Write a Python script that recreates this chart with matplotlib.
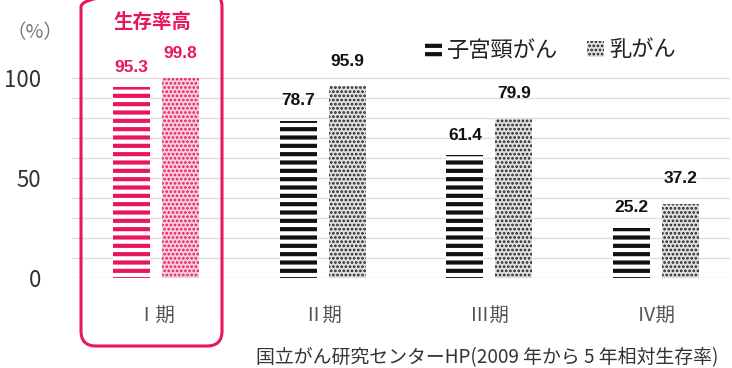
import matplotlib
matplotlib.use("Agg")
import matplotlib.pyplot as plt
import numpy as np
from matplotlib.patches import FancyBboxPatch, Patch
from matplotlib.transforms import IdentityTransform

plt.rcParams['font.family'] = ['Noto Sans CJK JP', 'DejaVu Sans']

# ---- data ----
stages = ["Ⅰ期", "Ⅱ期", "Ⅲ期", "Ⅳ期"]
cervical = [95.3, 78.7, 61.4, 25.2]
breast = [99.8, 95.9, 79.9, 37.2]
series_names = ["子宮頸がん", "乳がん"]
y_ticks = [0, 50, 100]
highlight_title = "生存率高"
unit_label = "（%）"
source_note = "国立がん研究センターHP(2009 年から 5 年相対生存率)"

PINK = "#E8175D"
PINK_LIGHT = "#F6D0DE"
BLACK = "#111111"
GRAY_FACE = "#E0E0E0"

W, H = 732, 368
fig = plt.figure(figsize=(W / 100, H / 100), dpi=100)

# axes placement (pixel based)
left_px, right_px = 72, 730
zero_px, top_px = 278, 18
ax = fig.add_axes([left_px / W, (H - zero_px) / H,
                   (right_px - left_px) / W, (zero_px - top_px) / H])

spacing = 166.7
x0_px = 156
ax.set_xlim((left_px - x0_px) / spacing, (right_px - x0_px) / spacing)
ax.set_ylim(0, 130)

x = np.arange(len(stages))
bw = 37 / spacing
off = 24.5 / spacing

def set_hlw(bars, lw):
    for b in bars:
        if hasattr(b, "set_hatch_linewidth"):
            b.set_hatch_linewidth(lw)

plt.rcParams['hatch.linewidth'] = 3.0
cb = ax.bar(x - off, cervical, width=bw, facecolor="white",
            edgecolor=BLACK, linewidth=0, hatch="--", zorder=3)
set_hlw(cb, 3.0)
plt.rcParams['hatch.linewidth'] = 1.3
bb = ax.bar(x + off, breast, width=bw, facecolor=GRAY_FACE,
            edgecolor="#222222", linewidth=0, hatch="....", zorder=3)
set_hlw(bb, 1.3)

# highlight stage I
cb[0].set_edgecolor(PINK)
bb[0].set_edgecolor(PINK)
bb[0].set_facecolor(PINK_LIGHT)

# value labels
for i in range(len(stages)):
    col = PINK if i == 0 else BLACK
    ax.text(x[i] - off, cervical[i] + 10, f"{cervical[i]:.1f}", ha="center",
            va="center", fontsize=12.5, fontweight="bold", color=col,
            family=["Liberation Sans", "DejaVu Sans"], zorder=4)
    ax.text(x[i] + off, breast[i] + 12.5, f"{breast[i]:.1f}", ha="center",
            va="center", fontsize=12.5, fontweight="bold", color=col,
            family=["Liberation Sans", "DejaVu Sans"], zorder=4)

# axes styling
for s in ax.spines.values():
    s.set_visible(False)
ax.set_yticks(y_ticks)
ax.set_yticks(np.arange(0, 101, 10), minor=True)
ax.yaxis.grid(True, which="both", color="#DDDDDD", linewidth=1.0, zorder=0)
ax.tick_params(axis="y", which="both", length=0, pad=22,
               labelsize=16, labelcolor="#333333")
ax.set_xticks(x)
ax.set_xticklabels(stages)
ax.tick_params(axis="x", length=0, pad=19, labelsize=14, labelcolor="#555555")
ax.set_axisbelow(True)

# legend
h1 = Patch(facecolor="white", edgecolor=BLACK, linewidth=0, hatch="--")
h2 = Patch(facecolor=GRAY_FACE, edgecolor="#222222", linewidth=0, hatch="....")
leg = fig.legend([h1, h2], series_names, loc="center left",
                 bbox_to_anchor=(414 / W, (H - 50) / H), ncol=2, frameon=False,
                 fontsize=16, handlelength=0.75, handleheight=0.75,
                 handletextpad=0.25, columnspacing=1.3, borderpad=0,
                 labelcolor="#222222")
lh = getattr(leg, "legend_handles", None) or getattr(leg, "legendHandles", [])
if len(lh) == 2:
    if hasattr(lh[0], "set_hatch_linewidth"):
        lh[0].set_hatch_linewidth(3.0)
        lh[1].set_hatch_linewidth(1.3)

# texts
fig.text(35 / W, (H - 33) / H, unit_label, ha="center", va="center",
         fontsize=14, color="#777777")
fig.text(152 / W, (H - 22) / H, highlight_title, ha="center", va="center",
         fontsize=14, fontweight="bold", color=PINK)
fig.text(718 / W, (H - 358) / H, source_note, ha="right", va="center",
         fontsize=13.6, color="#333333")

# highlight frame (pixel coordinates, origin bottom-left)
frame = FancyBboxPatch((81, H - 346), 222 - 81, 346 + 8,
                       boxstyle="round,pad=0,rounding_size=15",
                       transform=IdentityTransform(), facecolor="none",
                       edgecolor=PINK, linewidth=2.2, zorder=10)
fig.add_artist(frame)

fig.savefig("out.png", dpi=100)
